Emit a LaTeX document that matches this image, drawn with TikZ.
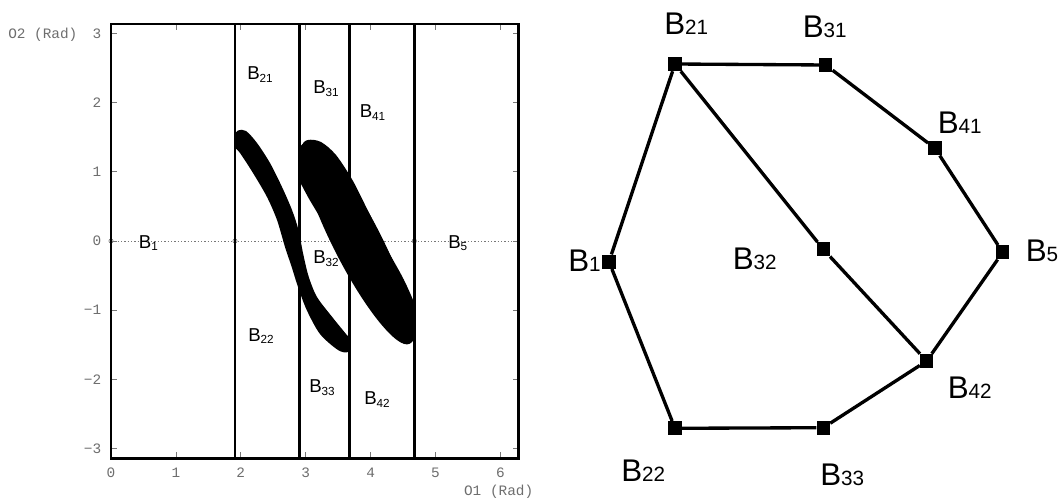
\documentclass[tikz,border=0pt]{standalone}
\usepackage{fontspec}
\setmainfont{Liberation Sans}
\newfontfamily\plotmono{Liberation Mono}
\definecolor{axisgray}{RGB}{110,110,110}
\definecolor{tickgray}{RGB}{120,120,120}
\newcommand\plb[1]{{\fontsize{14}{14}\selectfont B}\raisebox{-2.2pt}{\fontsize{8.8}{9}\selectfont #1}}
\newcommand\grb[1]{{\fontsize{23.5}{24}\selectfont B}{\fontsize{15.5}{16}\selectfont #1}}
\begin{document}
\begin{tikzpicture}[x=0.75pt,y=-0.75pt,
  frameline/.style={line width=2pt},
  tickline/.style={draw=tickgray,line width=0.6pt},
  ticklabel/.style={font=\plotmono\fontsize{10.8}{11}\selectfont,text=axisgray,inner sep=0pt},
  plotlabel/.style={anchor=base west,inner sep=0pt},
  vtx/.style={fill=black,rectangle,minimum width=10pt,minimum height=10.5pt,inner sep=0pt},
  gedge/.style={line width=2.5pt},
  glabel/.style={anchor=base west,inner sep=0pt}]
\useasboundingbox (0,0) rectangle (1063,502);

% ---------- left plot ----------
% zero line with markers
\draw[tickgray,line width=0.5pt,dash pattern=on 1pt off 1.5pt] (111,241) -- (518.8,241);
\foreach \xx in {111,235,414.3}
  \draw[tickgray,line width=0.5pt] (\xx,241) circle [radius=1.6pt];

% left S-shaped band
\begin{scope}
\clip (235,0) rectangle (349.3,502);
\fill[black] plot[smooth cycle] coordinates {
 (233,138) (238,130.5) (246,131) (257,143) (270,163) (282,187) (292,210)
 (298.5,230) (303,253) (308.5,276) (317,297) (333,318) (346,334) (353,343)
 (348,352) (338,350) (320,334) (306.7,310) (298,287) (291.7,267) (285,247)
 (277,220) (267,197) (253,173) (240,153) (233,145)};
\end{scope}
% right large blob (ellipse plus end caps reaching the bounds)
\begin{scope}
\clip (299.3,0) rectangle (414.3,502);
\fill[black,rotate around={-62.9:(357.5,242.3)}] (357.5,242.3) ellipse [x radius=85.5pt, y radius=18pt];
\fill[black] plot[smooth cycle] coordinates {
 (300,147) (308,140) (321,142) (336,155) (353,181) (370,215) (387,249)
 (404,280) (416,308) (419,328) (411,343) (399,341) (386,325) (368,301)
 (352,278) (340,254) (324,224) (308,197) (296,173) (294,158)};
\end{scope}

% ticks
\foreach \k in {0,...,6} {
  \draw[tickline] ({111+64.9*\k},458.4) -- ({111+64.9*\k},452.4);
  \draw[tickline] ({111+64.9*\k},24) -- ({111+64.9*\k},30);
  \node[ticklabel] (xl\k) at ({111+64.9*\k},472.5) {\k};
}
\foreach \k/\t in {3/3,2/2,1/1,0/0,-1/−1,-2/−2,-3/−3} {
  \draw[tickline] (111,{241-69.2*\k}) -- (117,{241-69.2*\k});
  \draw[tickline] (518.8,{241-69.2*\k}) -- (512.8,{241-69.2*\k});
  \node[ticklabel,anchor=east] (yl\t) at (101.5,{241-69.2*\k}) {\t};
}
\node[ticklabel,anchor=west] (ylab) at (8,34.5) {O2 (Rad)};
\node[ticklabel,anchor=east] (xlab) at (533.5,492) {O1 (Rad)};

% region boundaries and frame
\foreach \xx in {235,299.3,349.3,414.3}
  \draw[frameline] (\xx,24) -- (\xx,458.4);
\draw[frameline] (111,24) rectangle (518.8,458.4);

% region labels
\node[plotlabel] (p21) at (247,79.5) {\plb{21}};
\node[plotlabel] (p31) at (313,94) {\plb{31}};
\node[plotlabel] (p41) at (359.5,117.5) {\plb{41}};
\node[plotlabel] (p1) at (138.6,248) {\plb{1}};
\node[plotlabel] (p5) at (448,248) {\plb{5}};
\node[plotlabel] (p32) at (313,263.5) {\plb{32}};
\node[plotlabel] (p22) at (248,341) {\plb{22}};
\node[plotlabel] (p33) at (309,392.5) {\plb{33}};
\node[plotlabel] (p42) at (364,404.5) {\plb{42}};

% ---------- right graph ----------
\node[vtx] (b21) at (675,64) {};
\node[vtx] (b31) at (825.7,65) {};
\node[vtx] (b41) at (935,148.3) {};
\node[vtx] (b5) at (1002.7,252.3) {};
\node[vtx] (b42) at (926.7,361) {};
\node[vtx] (b33) at (823.3,427.7) {};
\node[vtx] (b22) at (675,428.3) {};
\node[vtx] (b1) at (609,261.7) {};
\node[vtx] (b32) at (823.3,249.3) {};

\draw[gedge] (b21) -- (b31);
\draw[gedge] (b31) -- (b41);
\draw[gedge] (b41) -- (b5);
\draw[gedge] (b5) -- (b42);
\draw[gedge] (b42) -- (b33);
\draw[gedge] (b33) -- (b22);
\draw[gedge] (b22) -- (b1);
\draw[gedge] (b1) -- (b21);
\draw[gedge] (b21) -- (b32);
\draw[gedge] (b32) -- (b42);

\node[glabel] (g21) at (664,35) {\grb{21}};
\node[glabel] (g31) at (802.5,37.3) {\grb{31}};
\node[glabel] (g41) at (937.5,133.3) {\grb{41}};
\node[glabel] (g5) at (1025.5,261.7) {\grb{5}};
\node[glabel] (g32) at (732.5,270) {\grb{32}};
\node[glabel] (g1) at (568,272) {\grb{1}};
\node[glabel] (g22) at (621,481.7) {\grb{22}};
\node[glabel] (g33) at (820,485) {\grb{33}};
\node[glabel] (g42) at (947.5,398.3) {\grb{42}};
\end{tikzpicture}
\end{document}
